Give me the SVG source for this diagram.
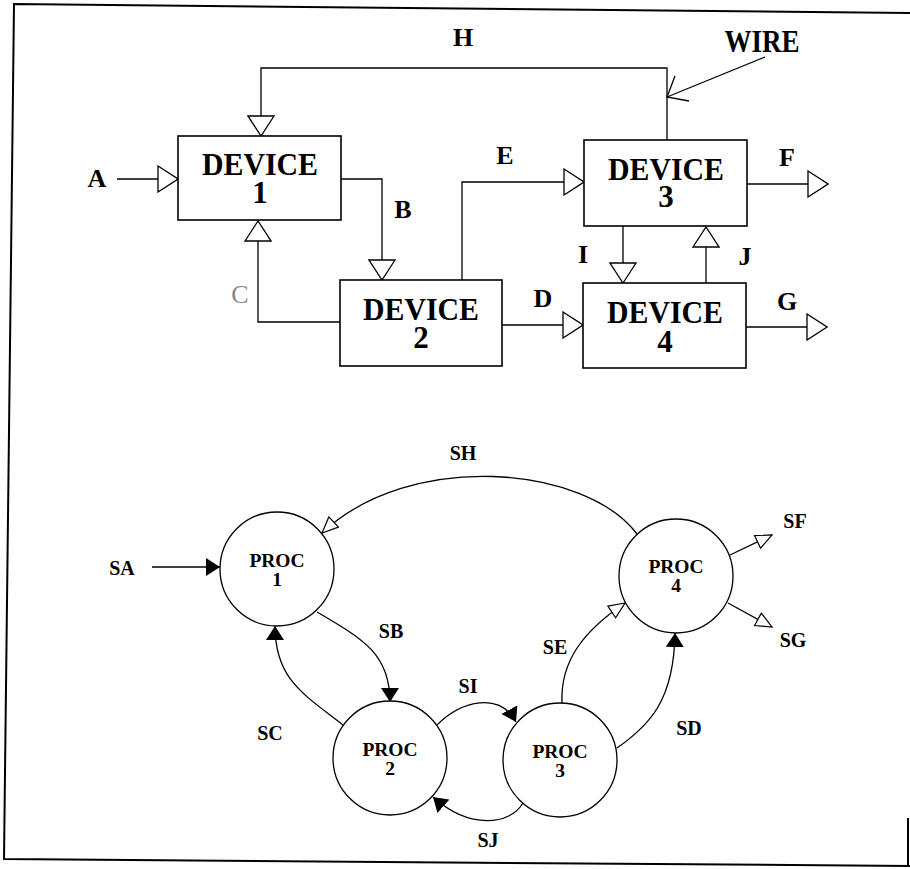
<svg xmlns="http://www.w3.org/2000/svg" width="910" height="869" viewBox="0 0 910 869">
<style>
.box{fill:#fff;stroke:#000;stroke-width:1.6}
.proc{fill:#fff;stroke:#000;stroke-width:1.3}
.ln{fill:none;stroke:#000;stroke-width:1.3}
.dev{font-family:"Liberation Serif",serif;font-weight:bold;font-size:31px;text-anchor:middle;fill:#000}
.lbl{font-family:"Liberation Serif",serif;font-weight:bold;font-size:26px;text-anchor:middle;fill:#000}
.pl{font-family:"Liberation Serif",serif;font-weight:bold;font-size:19.5px;text-anchor:middle;fill:#000}
.sl{font-family:"Liberation Serif",serif;font-weight:bold;font-size:20px;text-anchor:middle;fill:#000}
</style>
<defs>
<marker id="hb" markerUnits="userSpaceOnUse" viewBox="0 0 22 28" markerWidth="22" markerHeight="28" refX="21" refY="14" orient="auto">
<path d="M1,1 L21,14 L1,27 Z" fill="#fff" stroke="#000" stroke-width="1.3"/>
</marker>
<marker id="hs" markerUnits="userSpaceOnUse" viewBox="0 0 18 16" markerWidth="18" markerHeight="16" refX="17" refY="8" orient="auto">
<path d="M1,1 L17,8 L1,15 Z" fill="#fff" stroke="#000" stroke-width="1.2"/>
</marker>
<marker id="fa" markerUnits="userSpaceOnUse" viewBox="0 0 15 18" markerWidth="15" markerHeight="18" refX="14" refY="9" orient="auto">
<path d="M0,0 L14,9 L0,18 Z" fill="#000"/>
</marker>
</defs>
<g id="frame" fill="none" stroke="#000" stroke-width="2">
<path d="M910,13 L14,4 L4,859 L910,866"/>
<path d="M908,818 L908,866"/>
</g>
<g id="connectors">
<path class="ln" d="M667,140 L667,68 L261,68 L261,136" marker-end="url(#hb)"/>
<path class="ln" d="M765,57 L667,97"/>
<path class="ln" d="M675,76 L667,97 L689,101"/>
<path class="ln" d="M117,179 L178,179" marker-end="url(#hb)"/>
<path class="ln" d="M341,179 L382,179 L382,280" marker-end="url(#hb)"/>
<path class="ln" d="M340,322 L258,322 L258,221" marker-end="url(#hb)"/>
<path class="ln" d="M462,280 L462,182 L584,182" marker-end="url(#hb)"/>
<path class="ln" d="M747,184 L828,184" marker-end="url(#hb)"/>
<path class="ln" d="M623,226 L623,283" marker-end="url(#hb)"/>
<path class="ln" d="M706,283 L706,227" marker-end="url(#hb)"/>
<path class="ln" d="M502,325 L583,325" marker-end="url(#hb)"/>
<path class="ln" d="M746,327 L827,327" marker-end="url(#hb)"/>
<path class="ln" d="M637,534 C585,465 410,450 322,533" marker-end="url(#hs)"/>
<path class="ln" d="M152,567 L220,567" marker-end="url(#fa)"/>
<path class="ln" d="M317,612 C365,640 390,655 390,702" marker-end="url(#fa)"/>
<path class="ln" d="M343,725 C305,695 275,680 275,626" marker-end="url(#fa)"/>
<path class="ln" d="M437,725 C462,700 500,692 516,722" marker-end="url(#fa)"/>
<path class="ln" d="M523,803 C510,825 470,830 433,797" marker-end="url(#fa)"/>
<path class="ln" d="M562,703 C560,660 585,630 625,603" marker-end="url(#hs)"/>
<path class="ln" d="M617,748 C650,725 674,700 675,633" marker-end="url(#fa)"/>
<path class="ln" d="M730,555 L772,535" marker-end="url(#hs)"/>
<path class="ln" d="M728,603 L772,627" marker-end="url(#hs)"/>
</g>
<g id="device1"><rect class="box" x="178" y="136" width="163" height="84"/>
<text class="dev"><tspan x="260" y="175" textLength="116" lengthAdjust="spacingAndGlyphs">DEVICE</tspan><tspan x="260" y="203">1</tspan></text></g>
<g id="device2"><rect class="box" x="340" y="280" width="162" height="86"/>
<text class="dev"><tspan x="421" y="320" textLength="116" lengthAdjust="spacingAndGlyphs">DEVICE</tspan><tspan x="421" y="348">2</tspan></text></g>
<g id="device3"><rect class="box" x="584" y="140" width="163" height="86"/>
<text class="dev"><tspan x="666" y="180" textLength="116" lengthAdjust="spacingAndGlyphs">DEVICE</tspan><tspan x="666" y="207">3</tspan></text></g>
<g id="device4"><rect class="box" x="583" y="283" width="163" height="85"/>
<text class="dev"><tspan x="665" y="323" textLength="116" lengthAdjust="spacingAndGlyphs">DEVICE</tspan><tspan x="665" y="352">4</tspan></text></g>
<g id="proc1"><circle class="proc" cx="277" cy="569" r="57"/>
<text class="pl"><tspan x="277" y="567">PROC</tspan><tspan x="277" y="586">1</tspan></text></g>
<g id="proc2"><circle class="proc" cx="390" cy="758" r="57"/>
<text class="pl"><tspan x="390" y="756">PROC</tspan><tspan x="390" y="775">2</tspan></text></g>
<g id="proc3"><circle class="proc" cx="560" cy="760" r="57"/>
<text class="pl"><tspan x="560" y="758">PROC</tspan><tspan x="560" y="777">3</tspan></text></g>
<g id="proc4"><circle class="proc" cx="676" cy="576" r="57"/>
<text class="pl"><tspan x="676" y="573">PROC</tspan><tspan x="676" y="592">4</tspan></text></g>
<g id="labels">
<text class="lbl" x="463" y="46">H</text>
<text class="dev" x="762" y="52" textLength="75" lengthAdjust="spacingAndGlyphs">WIRE</text>
<text class="lbl" x="97" y="187">A</text>
<text class="lbl" x="403" y="218">B</text>
<text class="lbl" x="240" y="303" style="font-weight:normal;fill:#888">C</text>
<text class="lbl" x="505" y="164">E</text>
<text class="lbl" x="787" y="166">F</text>
<text class="lbl" x="583" y="263">I</text>
<text class="lbl" x="745" y="265">J</text>
<text class="lbl" x="543" y="307">D</text>
<text class="lbl" x="787" y="310">G</text>
<text class="sl" x="463" y="460">SH</text>
<text class="sl" x="122" y="575">SA</text>
<text class="sl" x="391" y="638">SB</text>
<text class="sl" x="270" y="740">SC</text>
<text class="sl" x="468" y="693">SI</text>
<text class="sl" x="555" y="654">SE</text>
<text class="sl" x="689" y="735">SD</text>
<text class="sl" x="795" y="528">SF</text>
<text class="sl" x="793" y="647">SG</text>
<text class="sl" x="488" y="847">SJ</text>
</g>
</svg>
